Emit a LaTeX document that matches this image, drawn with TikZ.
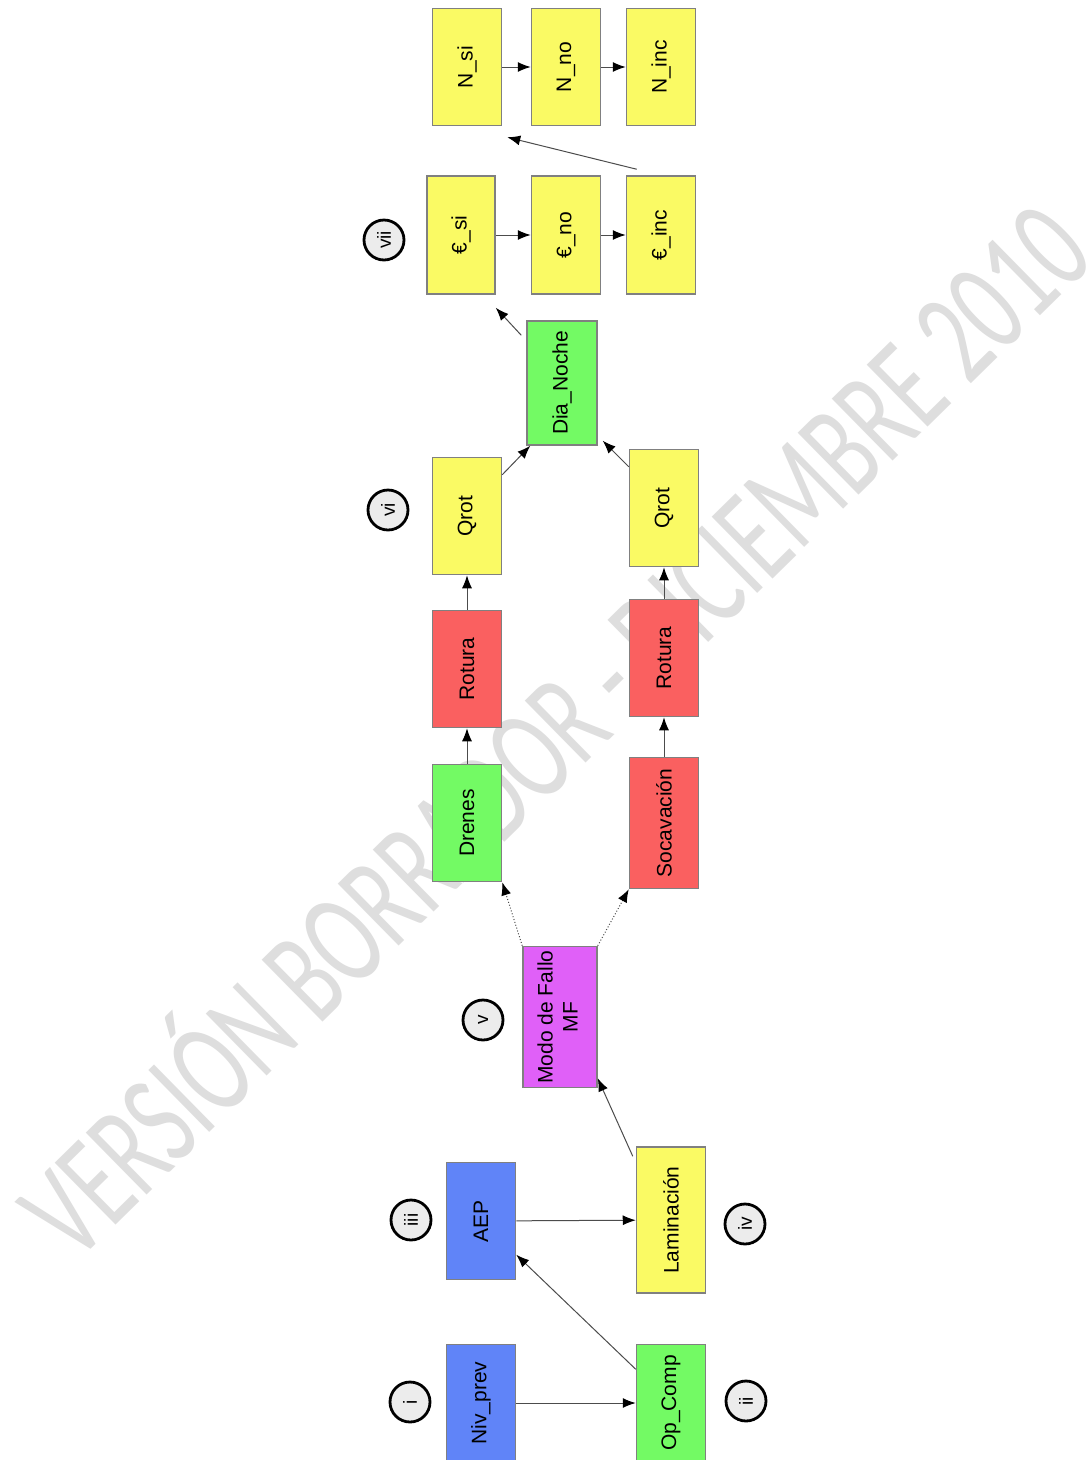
\documentclass[tikz,border=0pt]{standalone}
\usepackage{fontspec}
\setmainfont{Liberation Sans}
\newfontfamily\wmfont{Carlito}
\usepackage{graphicx}
\usepackage{xcolor}
\usetikzlibrary{arrows.meta}
\definecolor{boxyellow}{RGB}{250,250,100}
\definecolor{boxgreen}{RGB}{115,250,100}
\definecolor{boxred}{RGB}{250,96,96}
\definecolor{boxblue}{RGB}{96,132,248}
\definecolor{boxmagenta}{RGB}{224,96,248}
\definecolor{boxline}{RGB}{128,128,128}
\definecolor{tagfill}{RGB}{236,236,236}
\newcommand{\vtext}[1]{\rotatebox{90}{#1}}

\begin{document}
\begin{tikzpicture}[x=1pt,y=-1pt,font=\fontsize{21}{25}\selectfont,
  box/.style={draw=boxline,line width=1.5pt,minimum width=69pt,minimum height=117pt,inner sep=0pt},
  tag/.style={circle,draw=black,line width=2.8pt,fill=tagfill,minimum size=40pt,inner sep=0pt,font=\fontsize{19}{21}\selectfont},
  link/.style={draw=black!70,line width=1pt,-{Latex[length=13pt,width=10pt,black]}},
  dotlink/.style={link,dotted},
  wmark/.style={text=black!13,font=\wmfont\fontsize{89}{89}\selectfont,inner sep=0pt}]
  \useasboundingbox (0,0) rectangle (1089,1460);
  \clip (0,0) rectangle (1089,1460);
  \fill[white] (0,0) rectangle (1089,1460);
  \node[wmark,rotate=44.5,anchor=base west] (wm) at (75,1265) {\scalebox{1}[1.52]{VERSIÓN BORRADOR - DICIEMBRE 2010}};

  \node[box,fill=boxyellow] (nsi) at (467,67) {\vtext{N\_si}};
  \node[box,fill=boxyellow] (nno) at (566,67) {\vtext{N\_no}};
  \node[box,fill=boxyellow] (ninc) at (661,67) {\vtext{N\_inc}};
  \node[box,fill=boxyellow,minimum width=68pt,minimum height=118pt] (esi) at (461,235) {\vtext{€\_si}};
  \node[box,fill=boxyellow,minimum height=118pt] (eno) at (566,235) {\vtext{€\_no}};
  \node[box,fill=boxyellow,minimum height=118pt] (einc) at (661,235) {\vtext{€\_inc}};
  \node[box,fill=boxgreen,minimum width=70pt,minimum height=124pt] (dia) at (562,383) {\vtext{Dia\_Noche}};
  \node[box,fill=boxyellow] (qrotl) at (467,516) {\vtext{Qrot}};
  \node[box,fill=boxyellow] (qrotr) at (664,508) {\vtext{Qrot}};
  \node[box,fill=boxred] (rotl) at (467,669) {\vtext{Rotura}};
  \node[box,fill=boxred] (rotr) at (664,658) {\vtext{Rotura}};
  \node[box,fill=boxgreen] (dren) at (467,823) {\vtext{Drenes}};
  \node[box,fill=boxred,minimum height=131pt] (socav) at (664,823) {\vtext{Socavación}};
  \node[box,fill=boxmagenta,minimum width=74pt,minimum height=141pt] (mf) at (560,1017) {\vtext{\begin{tabular}{@{}c@{}}Modo de Fallo\\MF\end{tabular}}};
  \node[box,fill=boxyellow,minimum height=146pt] (lam) at (671,1220) {\vtext{Laminación}};
  \node[box,fill=boxblue] (aep) at (481,1221) {\vtext{AEP}};
  \node[box,fill=boxblue] (nivp) at (481,1403) {\vtext{Niv\_prev}};
  \node[box,fill=boxgreen] (opc) at (671,1403) {\vtext{Op\_Comp}};

  \node[tag] (t1) at (410,1402) {\vtext{i}};
  \node[tag] (t2) at (746,1401) {\vtext{ii}};
  \node[tag] (t3) at (411,1220) {\vtext{iii}};
  \node[tag] (t4) at (745,1224) {\vtext{iv}};
  \node[tag] (t5) at (483,1020) {\vtext{v}};
  \node[tag] (t6) at (388,510) {\vtext{vi}};
  \node[tag] (t7) at (384,240) {\vtext{vii}};

  \draw[link] (nsi) -- (nno);
  \draw[link] (nno) -- (ninc);
  \draw[link] (esi) -- (eno);
  \draw[link] (eno) -- (einc);
  \draw[link] ([xshift=11pt,yshift=6pt]einc.north west) -- ([xshift=5pt,yshift=-11pt]nsi.south east);
  \draw[link] ([xshift=-5pt,yshift=-15pt]dia.north west) -- ([yshift=-13pt]esi.south east);
  \draw[link] ([yshift=-18pt]qrotl.north east) -- ([xshift=4pt]dia.south west);
  \draw[link] ([yshift=-18pt]qrotr.north west) -- ([xshift=5pt,yshift=5pt]dia.south east);
  \draw[link] (rotl) -- (qrotl);
  \draw[link] (dren) -- (rotl);
  \draw[link] (rotr) -- (qrotr);
  \draw[link] (socav) -- (rotr);
  \draw[dotlink] (mf.north west) -- (dren.south east);
  \draw[dotlink] (mf.north east) -- (socav.south west);
  \draw[link] ([xshift=-3pt,yshift=-10pt]lam.north west) -- ([yshift=10pt]mf.south east);
  \draw[link] (aep) -- (lam);
  \draw[link] (opc) -- (aep);
  \draw[link] (nivp) -- (opc);
\end{tikzpicture}
\end{document}
